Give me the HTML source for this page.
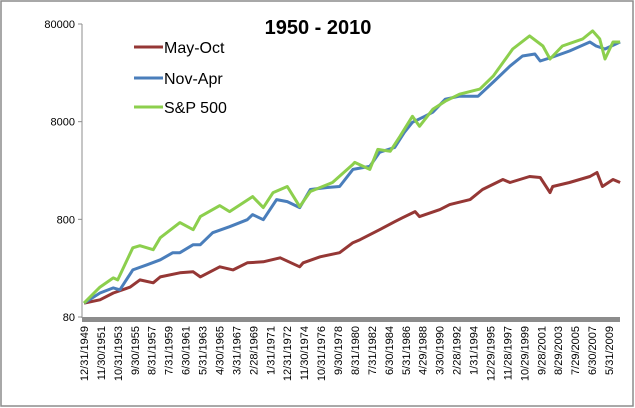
<!DOCTYPE html>
<html><head><meta charset="utf-8"><style>
body{margin:0;background:#fff;}
svg{display:block;font-family:"Liberation Sans",sans-serif;}
</style></head><body>
<svg id="chart" width="635" height="408" viewBox="0 0 635 408">
<rect x="1" y="1" width="632" height="405" fill="#fff" stroke="#8c8c8c" stroke-width="1.5"/>
<line x1="82" y1="24" x2="82" y2="318" stroke="#8c8c8c" stroke-width="1"/>
<rect x="82" y="317" width="538" height="5" fill="#8c8c8c"/>
<text x="318" y="34" text-anchor="middle" font-size="20" font-weight="bold">1950 - 2010</text>
<g>
<line x1="134" y1="47" x2="163" y2="47" stroke="#953735" stroke-width="3"/>
<text x="164" y="53" font-size="16">May-Oct</text>
<line x1="134" y1="78" x2="163" y2="78" stroke="#4a7ebb" stroke-width="3"/>
<text x="164" y="84" font-size="16">Nov-Apr</text>
<text x="164" y="113" font-size="16">S&amp;P 500</text>
<line x1="134" y1="107" x2="163" y2="107" stroke="#8ccf4d" stroke-width="3"/>
</g>
<g id="yaxis"></g><g id="xaxis"></g><g id="series"></g>
</svg>
<script>
const yTicks=[80,800,8000,80000];
const xLabels=["12/31/1949","11/30/1951","10/31/1953","9/30/1955","8/31/1957","7/31/1959","6/30/1961","5/31/1963","4/30/1965","3/31/1967","2/28/1969","1/31/1971","12/31/1972","11/30/1974","10/31/1976","9/30/1978","8/31/1980","7/31/1982","6/30/1984","5/31/1986","4/29/1988","3/30/1990","2/28/1992","1/31/1994","12/29/1995","11/28/1997","10/29/1999","9/28/2001","8/29/2003","7/29/2005","6/30/2007","5/31/2009"];
const redYears=[1950,1951.8,1953.3,1955.2,1956.3,1957.8,1958.6,1960.8,1962.3,1963.1,1965.3,1966.8,1968.4,1970.2,1972.1,1974.3,1974.7,1976.6,1978.8,1980.3,1981.1,1983.3,1985.0,1985.9,1987.3,1987.8,1990.1,1991.2,1993.5,1994.9,1997.2,1998.0,2000.2,2001.4,2002.5,2002.8,2004.7,2007.0,2007.8,2008.4,2009.6,2010.4];
const redValues=[111,120,141,162,192,179,206,227,232,206,261,243,287,294,323,261,287,331,364,461,495,627,757,832,960,853,1007,1132,1274,1615,2045,1906,2197,2144,1503,1734,1906,2197,2416,1734,2045,1906];
const blueYears=[1950,1951.8,1953.3,1954.05,1955.5,1957.1,1958.6,1960.0,1960.8,1962.3,1963.1,1964.5,1966.4,1968.4,1969.0,1970.2,1971.7,1972.9,1974.3,1975.5,1977.4,1978.8,1980.3,1982.2,1983.3,1985.0,1986.1,1987.0,1988.4,1989.3,1990.7,1992.3,1994.4,1996.1,1998.0,1999.4,2000.8,2001.4,2002.8,2004.7,2007.0,2007.7,2008.7,2010.4];
const blueValues=[111,141,159,152,243,274,308,364,364,440,440,584,673,794,894,794,1274,1216,1055,1615,1693,1734,2594,2785,3882,4364,6224,7888,9089,9998,13590,14590,14590,20330,29650,37600,39420,33420,36720,42370,52370,47680,44420,52370];
const greenYears=[1950,1951.8,1953.3,1953.8,1955.5,1956.3,1957.8,1958.6,1960.8,1962.3,1963.1,1965.3,1966.4,1969.0,1970.2,1971.3,1972.9,1974.3,1975.5,1978.0,1980.3,1980.5,1982.2,1983.1,1984.5,1985.6,1987.0,1987.8,1989.3,1990.7,1992.3,1994.6,1996.1,1998.3,2000.2,2001.7,2002.5,2003.9,2006.2,2007.3,2008.1,2008.7,2009.6,2010.4];
const greenValues=[111,162,201,192,409,430,391,519,740,627,853,1106,960,1368,1055,1503,1734,1081,1542,1906,2919,3060,2594,4163,3975,5665,9089,7179,10720,12970,15300,17220,23440,44420,60390,47680,35020,47680,56240,67950,56240,35020,52370,52370];

const NS="http://www.w3.org/2000/svg";
const X0=84,X1=621,Y0=317,Y1=24;
function xScale(yr){return X0+(yr-1950)*(X1-X0)/60.5;}
function yScale(v){return Y0-(Math.log10(v/80)/3)*(Y0-Y1);}
const ya=document.getElementById('yaxis');
yTicks.forEach(t=>{
 const ln=document.createElementNS(NS,'line');
 
 
 ln.setAttribute('x1',78);ln.setAttribute('x2',82);
 ln.setAttribute('y1',yScale(t));ln.setAttribute('y2',yScale(t));
 ln.setAttribute('stroke','#8c8c8c');ya.appendChild(ln);
 const tx=document.createElementNS(NS,'text');
 
 
 tx.setAttribute('x',75);tx.setAttribute('y',yScale(t)+4);
 tx.setAttribute('text-anchor','end');tx.setAttribute('font-size','11');
 tx.textContent=t;ya.appendChild(tx);
});
const xa=document.getElementById('xaxis');
xLabels.forEach((l,i)=>{
 const x=84+i*(609-84)/(xLabels.length-1);
 const tx=document.createElementNS(NS,'text');
 
 
 tx.setAttribute('transform','translate('+(x+4)+',326) rotate(-90)');
 tx.setAttribute('text-anchor','end');tx.setAttribute('font-size','11');
 tx.textContent=l;xa.appendChild(tx);
});
const sg=document.getElementById('series');
function draw(years,vals,color,name){
 const p=document.createElementNS(NS,'polyline');
 
 
 p.setAttribute('points',years.map((y,i)=>xScale(y).toFixed(1)+','+yScale(vals[i]).toFixed(1)).join(' '));
 p.setAttribute('fill','none');p.setAttribute('stroke',color);
 p.setAttribute('stroke-width','3');p.setAttribute('stroke-linejoin','round');
 sg.appendChild(p);
}
draw(redYears,redValues,'#953735','line-may-oct');
draw(blueYears,blueValues,'#4a7ebb','line-nov-apr');
draw(greenYears,greenValues,'#8ccf4d','line-sp500');
</script>
</body></html>
